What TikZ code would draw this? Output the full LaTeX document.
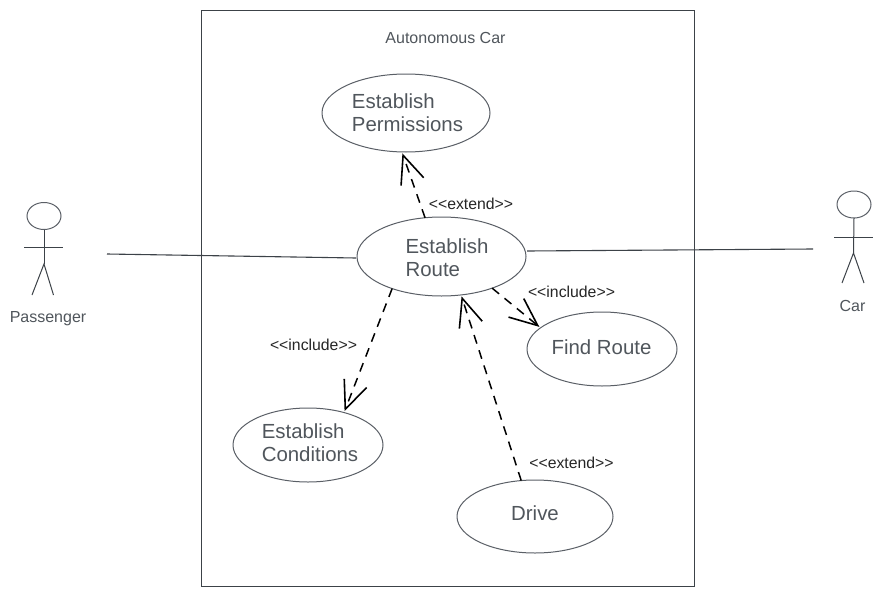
\documentclass[tikz,border=0pt]{standalone}
\usepackage{fontspec}
\setmainfont{Liberation Sans}
\usetikzlibrary{arrows.meta,shapes.geometric,calc}
\definecolor{uclabel}{HTML}{50565C}
\definecolor{ucline}{HTML}{5A5F66}
\definecolor{linkline}{HTML}{3C4248}
\tikzset{
  usecase/.style={draw=ucline,line width=1pt,ellipse,inner sep=0pt,outer sep=0pt},
  uctext/.style={text=uclabel,font=\fontsize{20.4}{23}\selectfont,align=left,inner sep=0pt},
  small/.style={font=\fontsize{16}{18}\selectfont,inner sep=0pt},
  graytxt/.style={small,text=uclabel},
  stereo/.style={font=\fontsize{15.8}{18}\selectfont,inner sep=0pt,text=black!85},
  dep/.style={draw=black,line width=1.5pt,dash pattern=on 9pt off 7pt,shorten >=1.5pt,-{Straight Barb[length=28pt,width=24pt,line width=1.6pt]}},
  assoc/.style={draw=linkline,line width=1.1pt},
  stick/.style={draw=linkline,line width=1pt},
  head/.style={draw=ucline,line width=1pt,ellipse,minimum width=34pt,minimum height=27pt,inner sep=0pt,outer sep=0pt}
}
\begin{document}
\begin{tikzpicture}[x=1pt,y=-1pt]
\useasboundingbox (0,0) rectangle (883,597);
\fill[white] (0,0) rectangle (883,597);
\node[draw=linkline,line width=1pt,minimum width=493pt,minimum height=576pt,inner sep=0pt,outer sep=0pt] (system) at (447.5,298) {};
\node[graytxt] (systitle) at (445.5,37.5) {Autonomous Car};

\node[usecase,minimum width=168pt,minimum height=78pt] (perm) at (406,113) {};
\node[usecase,minimum width=169pt,minimum height=79pt] (route) at (441.5,256.5) {};
\node[usecase,minimum width=150pt,minimum height=74pt] (find) at (602,349) {};
\node[usecase,minimum width=150pt,minimum height=74pt] (cond) at (308,445) {};
\node[usecase,minimum width=156pt,minimum height=73pt] (drive) at (535,516.5) {};

\node[uctext] (permtext) at (407.5,112.5) {Establish\\Permissions};
\node[uctext] (routetext) at (447,257.5) {Establish\\Route};
\node[uctext] (findtext) at (601.5,347.5) {Find Route};
\node[uctext] (condtext) at (310,442.5) {Establish\\Conditions};
\node[uctext] (drivetext) at (535,513) {Drive};

% Passenger actor
\node[head] (phead) at (44,216) {};
\coordinate (phip) at (44,264);
\coordinate (parmL) at (24,247);
\coordinate (parmR) at (63,247);
\coordinate (plegL) at (32,295);
\coordinate (plegR) at (53.5,295);
\draw[stick] (phead.south) -- (phip);
\draw[stick] (parmL) -- (parmR);
\draw[stick] (plegL) -- (phip) -- (plegR);
\node[graytxt] (ptext) at (48,319) {Passenger};

% Car actor
\node[head] (chead) at (854,204.5) {};
\coordinate (chip) at (853.5,253);
\coordinate (carmL) at (834,237);
\coordinate (carmR) at (873,237);
\coordinate (clegL) at (842,283);
\coordinate (clegR) at (864,283);
\draw[stick] (chead.south) -- (chip);
\draw[stick] (carmL) -- (carmR);
\draw[stick] (clegL) -- (chip) -- (clegR);
\node[graytxt] (ctext) at (852.5,306) {Car};

% Associations
\coordinate (pend) at (107,254);
\coordinate (cend) at (813,249);
\draw[assoc] (pend) -- ($(route.west)+(-1,1.5)$);
\draw[assoc] ($(route.east)+(1,-5.5)$) -- (cend);

% Dependencies
\draw[dep] (route.113.9) -- (perm.264.3);
\draw[dep] (route.-32.3) -- (find.161.6);
\draw[dep] (route.213) -- (cond.42);
\draw[dep] (drive.111.5) -- (route.-63.1);

\node[stereo] (l1) at (471,203.5) {<{}<extend>{}>};
\node[stereo] (l2) at (571.5,292) {<{}<include>{}>};
\node[stereo] (l3) at (313.5,344.5) {<{}<include>{}>};
\node[stereo] (l4) at (571.5,462.5) {<{}<extend>{}>};
\end{tikzpicture}
\end{document}
